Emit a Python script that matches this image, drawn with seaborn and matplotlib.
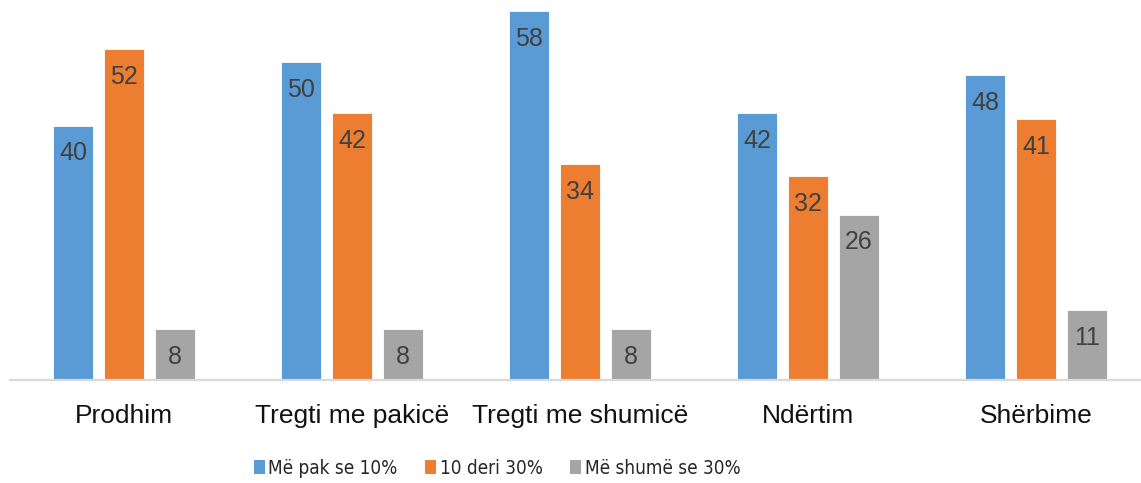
import matplotlib
matplotlib.use("Agg")
import matplotlib.pyplot as plt
import seaborn as sns
import pandas as pd
from matplotlib.patches import Patch
from matplotlib import font_manager as fm

categories = ["Prodhim", "Tregti me pakicë", "Tregti me shumicë", "Ndërtim", "Shërbime"]
series_names = ["Më pak se 10%", "10 deri 30%", "Më shumë se 30%"]
s1 = [40, 50, 58, 42, 48]
s2 = [52, 42, 34, 32, 41]
s3 = [8, 8, 8, 26, 11]
colors = ["#5B9BD5", "#ED7D31", "#A5A5A5"]

rows = []
for name, vals in zip(series_names, [s1, s2, s3]):
    for c, v in zip(categories, vals):
        rows.append({"cat": c, "series": name, "value": v})
df = pd.DataFrame(rows)

sns.set_theme(style="white")
plt.rcParams['font.family'] = ['Liberation Sans', 'DejaVu Sans']

W, H = 1141, 483
fig = plt.figure(figsize=(W / 100, H / 100), dpi=100)
ax = fig.add_axes([10 / W, 103 / H, 1140 / W, 380 / H])

sns.barplot(data=df, x="cat", y="value", hue="series", order=categories,
            hue_order=series_names, palette=colors, width=0.671, gap=0.216,
            saturation=1, ax=ax, legend=False, edgecolor="white", linewidth=0.6)

ax.set_xlim(-0.5, 4.5)
ax.set_ylim(0, 59.75)
ax.set_xlabel("")
ax.set_ylabel("")
ax.set_yticks([])
for s in ["top", "right", "left"]:
    ax.spines[s].set_visible(False)
ax.spines["bottom"].set_color("#D9D9D9")
ax.spines["bottom"].set_linewidth(1.6)
ax.tick_params(axis="x", length=0, pad=17, labelsize=19, colors="#111111")

for cont in ax.containers:
    for p in cont:
        h = p.get_height()
        ax.annotate(f"{h:.0f}", xy=(p.get_x() + p.get_width() / 2, h),
                    xytext=(0, -20), textcoords="offset points",
                    ha="center", va="center", fontsize=18, color="#404040")

# condensed font for legend if available
cond = None
for f in fm.fontManager.ttflist:
    if "condensed" in f.fname.lower() or "narrow" in f.fname.lower():
        if "bold" not in f.fname.lower() and "oblique" not in f.fname.lower() and "italic" not in f.fname.lower():
            cond = f.fname
            break
if cond is not None:
    prop = fm.FontProperties(fname=cond, size=13.6)
else:
    prop = fm.FontProperties(family="Liberation Sans", size=11.5)

handles = [Patch(facecolor=c, edgecolor="none") for c in colors]
fig.legend(handles, series_names, loc="center", ncol=3,
           bbox_to_anchor=(497 / W, (H - 468) / H), frameon=False,
           prop=prop,
           handlelength=0.58, handleheight=0.8, handletextpad=0.2, columnspacing=1.45,
           borderpad=0)

fig.savefig("out.png", dpi=100)
